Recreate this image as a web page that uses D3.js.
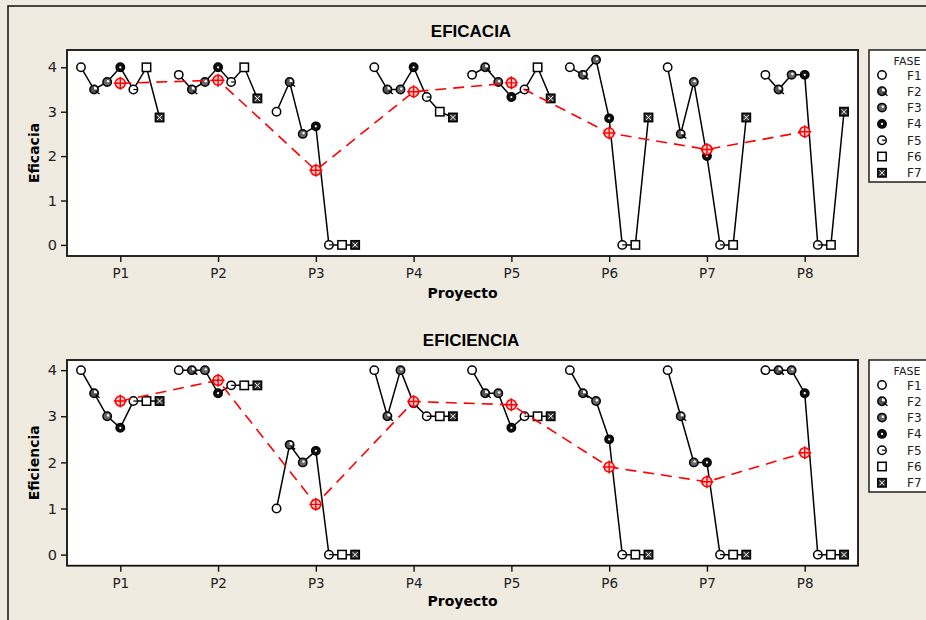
<!DOCTYPE html>
<html>
<head>
<meta charset="utf-8">
<script src="https://cdn.jsdelivr.net/npm/d3@7"></script>
<style>
  body { margin: 0; background: #efebe1; }
  svg { display: block; }
</style>
</head>
<body>
<div id="chart"></div>
<script>
// datos
const proyectos = ["P1", "P2", "P3", "P4", "P5", "P6", "P7", "P8"];
const fases = ["F1", "F2", "F3", "F4", "F5", "F6", "F7"];

// EFICACIA, una fila por proyecto (F1..F7)
const eficacia = [
  [4, 3.5, 3.67, 4, 3.5, 4, 2.87],
  [3.83, 3.5, 3.67, 4, 3.67, 4, 3.3],
  [3, 3.67, 2.5, 2.67, 0, 0, 0],
  [4, 3.5, 3.5, 4, 3.33, 3, 2.87],
  [3.83, 4, 3.67, 3.33, 3.5, 4, 3.3],
  [4, 3.83, 4.17, 2.85, 0, 0, 2.87],
  [4, 2.5, 3.67, 2, 0, 0, 2.87],
  [3.83, 3.5, 3.83, 3.83, 0, 0, 3]
];
const mediaEficacia = [3.64, 3.71, 1.68, 3.45, 3.65, 2.52, 2.15, 2.55];

// EFICIENCIA
const eficiencia = [
  [4, 3.5, 3, 2.75, 3.33, 3.33, 3.33],
  [4, 4, 4, 3.5, 3.67, 3.67, 3.67],
  [1, 2.38, 2, 2.25, 0, 0, 0],
  [4, 3, 4, 3.28, 3, 3, 3],
  [4, 3.5, 3.5, 2.75, 3, 3, 3],
  [4, 3.5, 3.33, 2.5, 0, 0, 0],
  [4, 3, 2, 2, 0, 0, 0],
  [4, 4, 4, 3.5, 0, 0, 0]
];
const mediaEficiencia = [3.33, 3.78, 1.09, 3.32, 3.25, 1.90, 1.58, 2.21];

const yTicks = [0, 1, 2, 3, 4];

const width = 926, height = 620;
const svg = d3.select("#chart").append("svg")
  .attr("width", width)
  .attr("height", height);

svg.append("rect")
  .attr("x", 0).attr("y", 0).attr("width", width).attr("height", height)
  .attr("fill", "#efebe1");
svg.append("rect")
  .attr("x", 8).attr("y", 6).attr("width", 940).attr("height", 640)
  .attr("fill", "none").attr("stroke", "#111").attr("stroke-width", 1.5);

const left = 67, right = 858;
const paso = 0.134; // separacion entre fases dentro de cada proyecto

const x = d3.scaleLinear().domain([0.455, 8.545]).range([left, right]);

// dibuja el simbolo de cada fase
function simbolo(g, f, cx, cy) {
  const s = g.append("g").attr("transform", `translate(${cx},${cy})`);
  const r = 4.2;
  if (f === 5 || f === 6) {
    s.append("rect")
      .attr("x", -r).attr("y", -r).attr("width", 2 * r).attr("height", 2 * r)
      .attr("fill", f === 5 ? "#fff" : "#333")
      .attr("stroke", "#000").attr("stroke-width", 1.5);
    if (f === 6) {
      s.append("path").attr("d", "M-2.5,-2.5L2.5,2.5M2.5,-2.5L-2.5,2.5")
        .attr("stroke", "#fff").attr("stroke-width", 1);
    }
    return;
  }
  const fill = ["#fff", "#555", "#666", "#111", "#fff"][f];
  s.append("circle").attr("r", r)
    .attr("fill", fill).attr("stroke", "#000").attr("stroke-width", 1.5);
  if (f === 1) {
    s.append("path").attr("d", "M1.5,1.5L5.5,4.5")
      .attr("stroke", "#000").attr("stroke-width", 1.4);
    s.append("path").attr("d", "M0,0L0,-3A3,3 0 0 1 3,0Z").attr("fill", "#fff");
  } else if (f === 2) {
    s.append("circle").attr("r", 1.2).attr("cx", 0.8).attr("cy", -0.8).attr("fill", "#fff");
  } else if (f === 3) {
    s.append("circle").attr("r", 1.1).attr("fill", "#fff");
  } else if (f === 4) {
    s.append("path").attr("d", "M0,0L3.5,0")
      .attr("stroke", "#000").attr("stroke-width", 1.2);
  }
}

function media(g, cx, cy) {
  const s = g.append("g").attr("transform", `translate(${cx},${cy})`);
  s.append("circle").attr("r", 5)
    .attr("fill", "#ffd0d0").attr("stroke", "#ff0000").attr("stroke-width", 1.6);
  s.append("path").attr("d", "M-6.5,0L6.5,0M0,-6.5L0,6.5")
    .attr("stroke", "#ff0000").attr("stroke-width", 1.4);
}

function panel(cfg) {
  const y = d3.scaleLinear().domain(cfg.dom).range([cfg.bottom, cfg.top]);
  const g = svg.append("g");

  g.append("text")
    .attr("x", 471).attr("y", cfg.titleY)
    .attr("text-anchor", "middle")
    .style("font-family", "Liberation Sans, Arial, sans-serif")
    .style("font-weight", "bold").style("font-size", "17px")
    .text(cfg.title);

  g.append("rect")
    .attr("x", left).attr("y", cfg.top)
    .attr("width", right - left).attr("height", cfg.bottom - cfg.top)
    .attr("fill", "#fff").attr("stroke", "#111").attr("stroke-width", 1.8);

  // ejes
  const ax = g.append("g")
    .attr("transform", `translate(0,${cfg.bottom})`)
    .call(d3.axisBottom(x).tickValues(d3.range(1, 9))
      .tickFormat(i => proyectos[i - 1]).tickSize(6).tickPadding(6.5));
  const ay = g.append("g")
    .attr("transform", `translate(${left},0)`)
    .call(d3.axisLeft(y).tickValues(yTicks).tickFormat(d3.format("d"))
      .tickSize(6).tickPadding(4));
  [ax, ay].forEach(a => {
    a.select(".domain").remove();
    a.selectAll("line").attr("stroke", "#111").attr("stroke-width", 1.4);
    a.selectAll("text")
      .style("font-family", "DejaVu Sans, Verdana, sans-serif")
      .style("font-size", "13.5px").attr("fill", "#222");
  });
  ay.selectAll("text").style("font-size", "14.5px");

  g.append("text")
    .attr("x", (left + right) / 2).attr("y", cfg.xlabY)
    .attr("text-anchor", "middle")
    .style("font-family", "DejaVu Sans, Verdana, sans-serif")
    .style("font-weight", "bold").style("font-size", "14px")
    .text("Proyecto");
  g.append("text")
    .attr("transform", `translate(39,${(cfg.top + cfg.bottom) / 2}) rotate(-90)`)
    .attr("text-anchor", "middle")
    .style("font-family", "DejaVu Sans, Verdana, sans-serif")
    .style("font-weight", "bold").style("font-size", "14px")
    .text(cfg.ylab);

  // lineas por proyecto
  cfg.data.forEach((fila, p) => {
    g.append("path")
      .attr("d", d3.line().x((v, f) => x(p + 1 + (f - 3) * paso)).y(v => y(v))(fila))
      .attr("fill", "none").attr("stroke", "#000").attr("stroke-width", 1.5);
  });
  cfg.data.forEach((fila, p) => {
    fila.forEach((v, f) => simbolo(g, f, x(p + 1 + (f - 3) * paso), y(v)));
  });

  // linea de medias
  g.append("path")
    .attr("d", d3.line().x((v, i) => x(i + 1)).y(v => y(v))(cfg.medias))
    .attr("fill", "none").attr("stroke", "#ff0000").attr("stroke-width", 1.6)
    .attr("stroke-dasharray", "11,7");
  cfg.medias.forEach((v, i) => media(g, x(i + 1), y(v)));

  // leyenda
  const lg = g.append("g");
  lg.append("rect")
    .attr("x", 869).attr("y", cfg.top)
    .attr("width", 80).attr("height", 132)
    .attr("fill", "#fff").attr("stroke", "#111").attr("stroke-width", 1.4);
  lg.append("text")
    .attr("x", 907).attr("y", cfg.top + 15)
    .attr("text-anchor", "middle")
    .style("font-family", "DejaVu Sans, Verdana, sans-serif")
    .style("font-size", "11px").attr("fill", "#222")
    .text("FASE");
  fases.forEach((f, i) => {
    const cy = cfg.top + 25 + i * 16.3;
    simbolo(lg, i, 882, cy);
    lg.append("text")
      .attr("x", 907).attr("y", cy + 4.5)
      .style("font-family", "DejaVu Sans, Verdana, sans-serif")
      .style("font-size", "12px").attr("fill", "#222")
      .text(f);
  });
}

panel({
  title: "EFICACIA", ylab: "Eficacia", data: eficacia, medias: mediaEficacia,
  top: 50, bottom: 256, dom: [-0.25, 4.39], titleY: 37, xlabY: 298
});
panel({
  title: "EFICIENCIA", ylab: "Eficiencia", data: eficiencia, medias: mediaEficiencia,
  top: 360, bottom: 565.7, dom: [-0.24, 4.22], titleY: 346, xlabY: 606
});
</script>
</body>
</html>
